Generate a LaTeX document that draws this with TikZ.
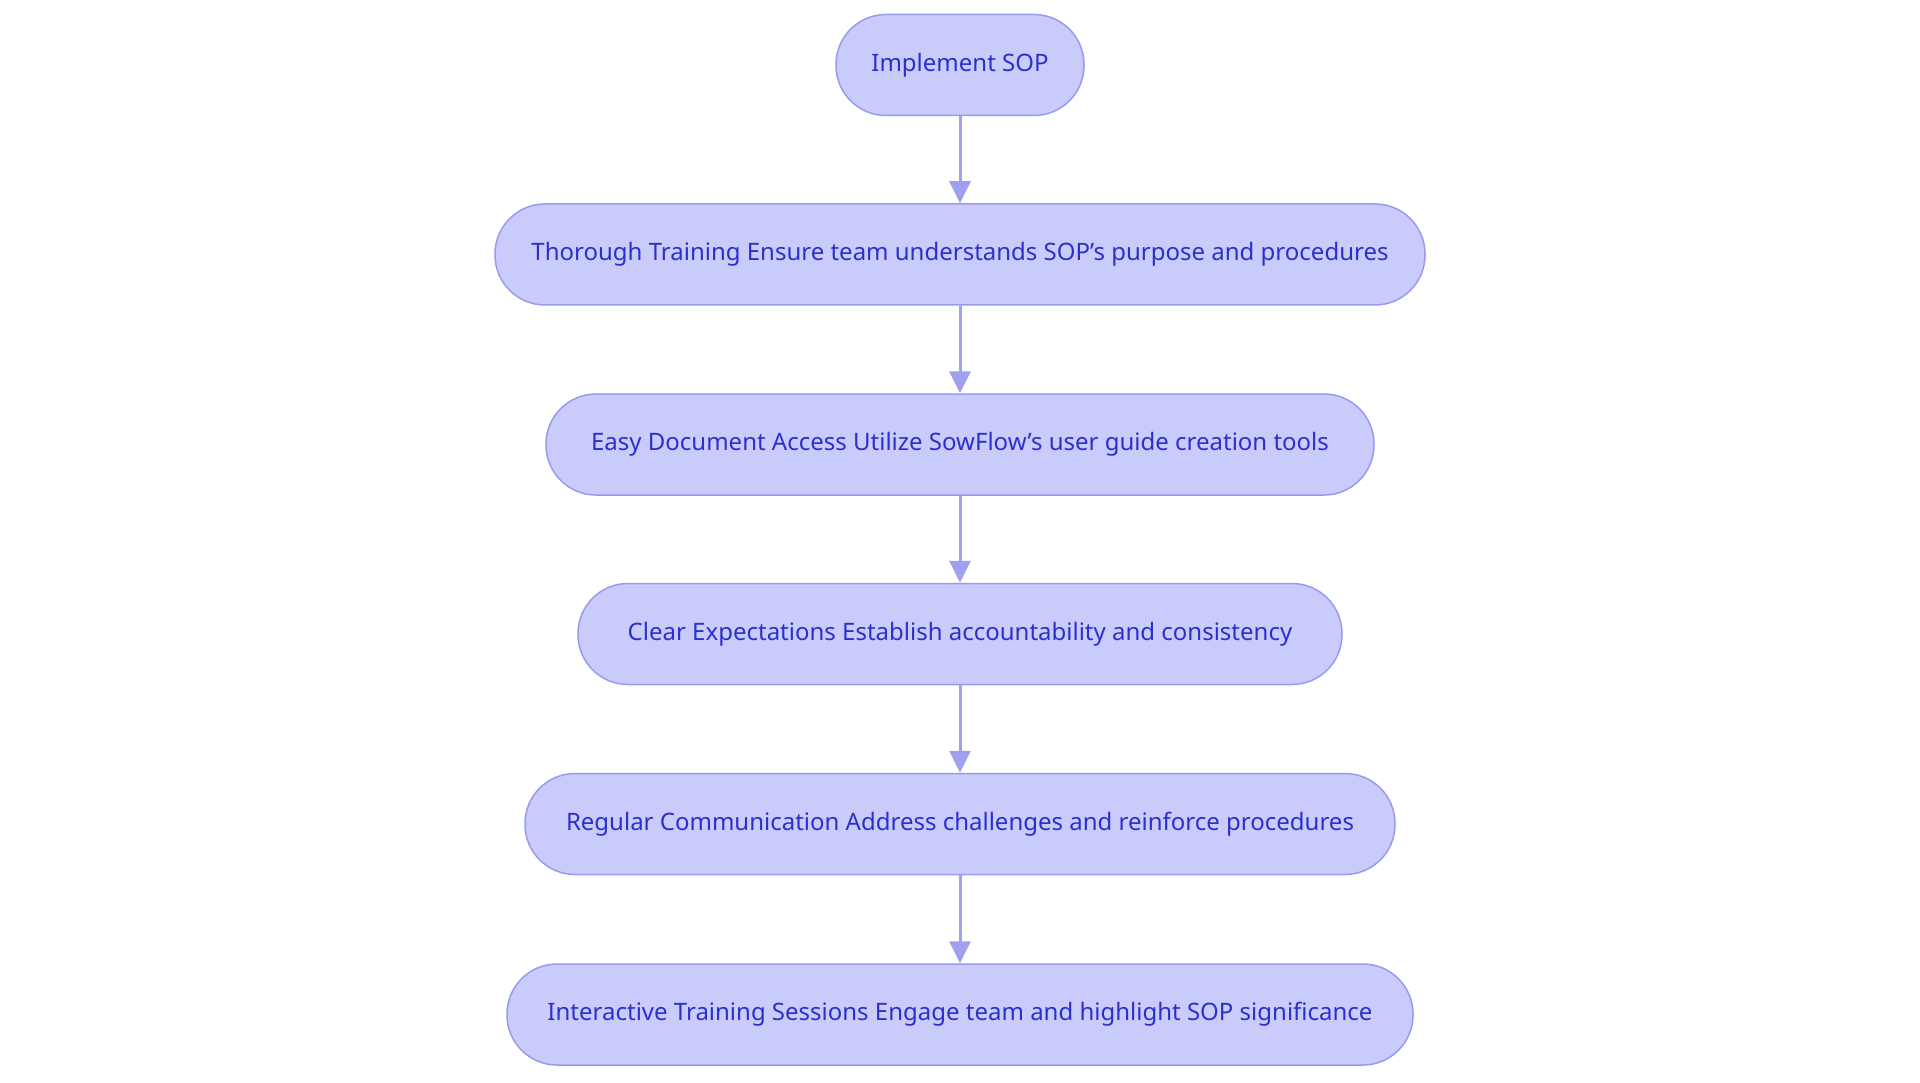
\documentclass[tikz,border=0pt]{standalone}
\usepackage{fontspec}
\setmainfont{Noto Sans}
\usetikzlibrary{arrows.meta}

\definecolor{stepfill}{HTML}{C9CBFB}
\definecolor{stepline}{HTML}{979BF0}
\definecolor{steptext}{HTML}{2B30CC}
\definecolor{flowline}{HTML}{9EA1F0}

\tikzset{
  stadium/.style = {draw = stepline, line width = 1.5pt, fill = stepfill,
    rounded corners = 50pt, minimum height = 101pt, inner xsep = 30pt,
    text = steptext, font = \fontsize{24}{28}\selectfont},
  flow/.style = {draw = flowline, line width = 3pt,
    -{Triangle[length = 22pt, width = 21pt]}}
}

\begin{document}
\begin{tikzpicture}[x = 1pt, y = 1pt]
\useasboundingbox (0,0) rectangle (1920,-1083);

\node[stadium, minimum width = 248pt] (sop)   at (960,-65)    {Implement SOP};
\node[stadium, minimum width = 930pt] (train) at (960,-254.5) {Thorough Training Ensure team understands SOP's purpose and procedures};
\node[stadium, minimum width = 828pt] (doc)   at (960,-444.5) {Easy Document Access Utilize SowFlow's user guide creation tools};
\node[stadium, minimum width = 764pt] (clear) at (960,-634)   {Clear Expectations Establish accountability and consistency};
\node[stadium, minimum width = 870pt] (comm)  at (960,-824)   {Regular Communication Address challenges and reinforce procedures};
\node[stadium, minimum width = 906pt] (inter) at (960,-1014.5){Interactive Training Sessions Engage team and highlight SOP significance};

\draw[flow] (sop)   -- (train);
\draw[flow] (train) -- (doc);
\draw[flow] (doc)   -- (clear);
\draw[flow] (clear) -- (comm);
\draw[flow] (comm)  -- (inter);
\end{tikzpicture}
\end{document}
